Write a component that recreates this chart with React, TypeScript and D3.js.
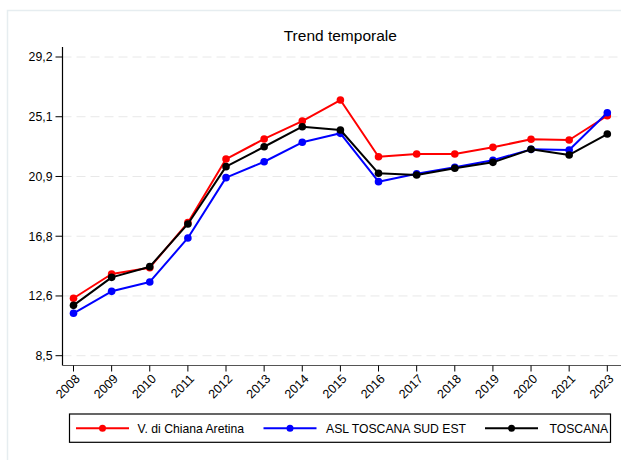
import React from "react";
import * as d3 from "d3";

const years = ["2008","2009","2010","2011","2012","2013","2014","2015","2016","2017","2018","2019","2020","2021","2023"];
const chiana = [12.48,14.16,14.6,17.72,22.13,23.52,24.76,26.22,22.29,22.48,22.48,22.94,23.5,23.45,25.13];
const aslSudEst = [11.44,12.96,13.61,16.66,20.84,21.94,23.29,23.91,20.56,21.11,21.56,22.04,22.8,22.75,25.34];
const toscana = [11.99,13.93,14.67,17.63,21.6,22.98,24.37,24.14,21.14,21.02,21.49,21.9,22.8,22.41,23.86];
const yTicks = [8.5, 12.64, 16.78, 20.92, 25.06, 29.2];
const seriesNames = ["V. di Chiana Aretina", "ASL TOSCANA SUD EST", "TOSCANA"];
const seriesColors = ["#ff0000", "#0000ff", "#000000"];
const title = "Trend temporale";

const W = 621, H = 460;
const FONT = "'Liberation Sans', Arial, Helvetica, sans-serif";

export default function App() {
  const x = d3.scalePoint<string>().domain(years).range([73.5, 607.3]);
  const y = d3.scaleLinear().domain([8.5, 29.2]).range([355.7, 57]);
  const axisLeft = 62.5;
  const axisBottom = 365.5;
  const series = [chiana, aslSudEst, toscana];
  const line = d3.line<number>().x((_, i) => x(years[i]) as number).y((d) => y(d));
  const fmt = (v: number) => v.toFixed(1).replace(".", ",");

  const legendItems = [
    { x0: 76, text: 137.5 },
    { x0: 263.5, text: 326 },
    { x0: 485, text: 549.5 },
  ];

  return (
    <div style={{ position: "fixed", left: 0, top: 0, width: W, height: H, background: "#fff" }}>
      <svg width={W} height={H} style={{ display: "block", fontFamily: FONT }}>
        <rect x={0} y={0} width={W} height={H} fill="#fff" />
        <rect x={7.5} y={10.5} width={W} height={H} fill="none" stroke="#e6edf0" strokeWidth={1.5} />
        <text x={340.3} y={40.8} textAnchor="middle" fontSize={15.5} fill="#000">{title}</text>
        {yTicks.map((t) => (
          <g key={t}>
            <line x1={axisLeft} x2={W} y1={y(t)} y2={y(t)} stroke="#e8e8e8" strokeWidth={1} strokeDasharray="9,5" />
            <line x1={axisLeft - 7} x2={axisLeft} y1={y(t)} y2={y(t)} stroke="#000" strokeWidth={1} />
            <text x={axisLeft - 10} y={y(t)} dy="0.35em" textAnchor="end" fontSize={12.3} fill="#000">{fmt(t)}</text>
          </g>
        ))}
        <line x1={axisLeft} x2={axisLeft} y1={47} y2={axisBottom} stroke="#000" strokeWidth={1.2} />
        <line x1={axisLeft} x2={W} y1={axisBottom} y2={axisBottom} stroke="#555" strokeWidth={1.2} />
        {years.map((yr) => {
          const px = x(yr) as number;
          return (
            <g key={yr}>
              <line x1={px} x2={px} y1={axisBottom} y2={axisBottom + 6} stroke="#000" strokeWidth={1} />
              <text
                transform={`translate(${px + 4},${axisBottom + 11}) rotate(-45)`}
                textAnchor="end"
                dy="0.35em"
                fontSize={12.5}
                fill="#000"
              >{yr}</text>
            </g>
          );
        })}
        {series.map((s, si) => (
          <g key={si}>
            <path d={line(s) || ""} fill="none" stroke={seriesColors[si]} strokeWidth={2} strokeLinejoin="round" />
            {s.map((v, i) => (
              <circle key={i} cx={x(years[i]) as number} cy={y(v)} r={3.8} fill={seriesColors[si]} />
            ))}
          </g>
        ))}
        <rect x={69.5} y={414} width={541} height={28.3} fill="#fff" stroke="#000" strokeWidth={1.2} />
        {legendItems.map((it, i) => (
          <g key={i}>
            <line x1={it.x0} x2={it.x0 + 53} y1={428.3} y2={428.3} stroke={seriesColors[i]} strokeWidth={2} />
            <circle cx={it.x0 + 26.5} cy={428.3} r={3.5} fill={seriesColors[i]} />
            <text x={it.text} y={428.3} dy="0.35em" fontSize={12.2} fill="#000">{seriesNames[i]}</text>
          </g>
        ))}
      </svg>
    </div>
  );
}
